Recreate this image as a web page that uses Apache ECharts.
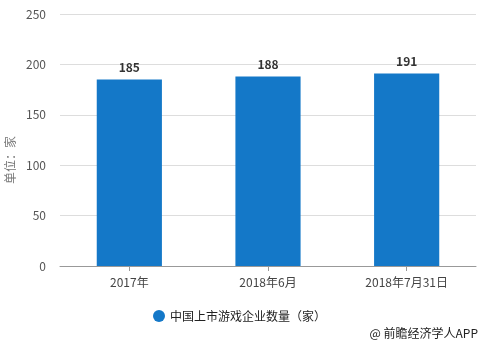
<!DOCTYPE html>
<html><head><meta charset="utf-8">
<script src="https://cdn.jsdelivr.net/npm/echarts@6/dist/echarts.min.js"></script>
<style>html,body{margin:0;padding:0;background:#fff}#c{width:483px;height:346px}</style>
</head><body><div id="c"></div>
<script>
const categories = ['2017年', '2018年6月', '2018年7月31日'];
const values = [185, 188, 191];
const seriesName = '中国上市游戏企业数量（家）';
const yTicks = [0, 50, 100, 150, 200, 250];
const yName = '单位：家';
const font = '"Microsoft YaHei","Noto Sans CJK SC",sans-serif';
const chart = echarts.init(document.getElementById('c'));
chart.setOption({
  animation: false,
  grid: { left: 60, right: 7, top: 14, bottom: 80, outerBoundsMode: 'none', containLabel: false },
  xAxis: {
    type: 'category', data: categories,
    axisLine: { lineStyle: { color: '#999' } },
    axisTick: { show: true, alignWithLabel: true, lineStyle: { color: '#999' } },
    axisLabel: { color: '#444', fontSize: 12, fontFamily: font, margin: 10 }
  },
  yAxis: {
    type: 'value', min: yTicks[0], max: yTicks[yTicks.length - 1], interval: 50,
    axisLine: { show: false }, axisTick: { show: false },
    axisLabel: { color: '#555', fontSize: 12, fontFamily: font, margin: 14 },
    splitLine: { lineStyle: { color: '#ddd' } }
  },
  legend: {
    data: [seriesName], top: 305, left: 148, icon: 'circle', itemWidth: 12, itemHeight: 12,
    textStyle: { color: '#222', fontSize: 12, fontFamily: font }
  },
  series: [{
    name: seriesName, type: 'bar', data: values, barWidth: '47%',
    itemStyle: { color: '#1478c8' },
    label: { show: true, position: 'top', color: '#333', fontWeight: 'bold', fontSize: 12, fontFamily: font, distance: 6 }
  }],
  graphic: [{
    type: 'text', x: 10, y: 160, rotation: Math.PI / 2,
    style: { text: yName, fill: '#777', font: '12px ' + font, align: 'center', verticalAlign: 'middle' }
  }, {
    type: 'text', right: 5, top: 327,
    style: { text: '@ 前瞻经济学人APP', fill: '#222', font: '12px ' + font }
  }]
});
</script></body></html>
